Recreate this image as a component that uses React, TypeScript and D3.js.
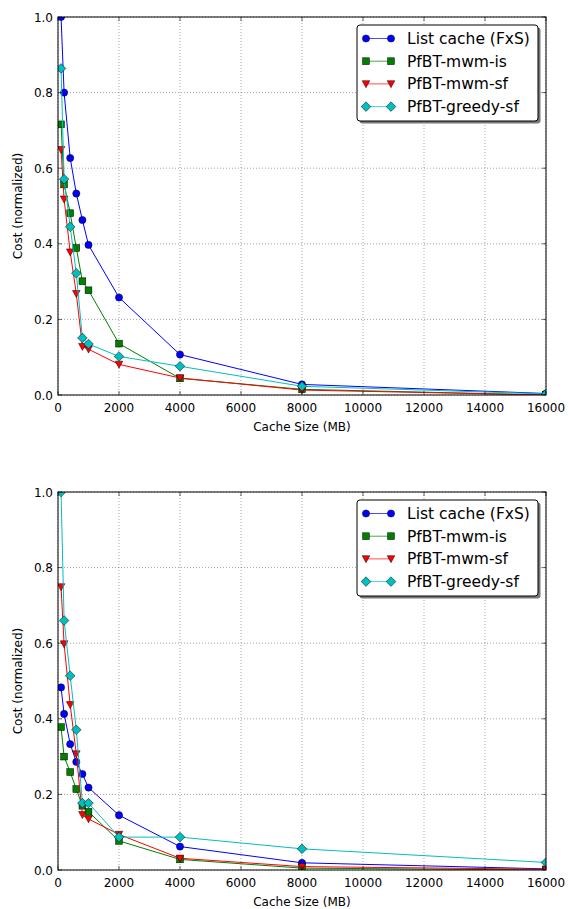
import React from 'react';
import * as d3 from 'd3';

// cache sizes (MB) shared by both panels
const cacheSizes = [100, 200, 400, 600, 800, 1000, 2000, 4000, 8000, 16000];

const seriesNames = ['List cache (FxS)', 'PfBT-mwm-is', 'PfBT-mwm-sf', 'PfBT-greedy-sf'];
const seriesColors = ['#0000ff', '#007f00', '#ff0000', '#00bfbf'];
const seriesMarkers = ['circle', 'square', 'triangle', 'diamond'];

// top panel
const topListCache = [1.0, 0.8, 0.627, 0.533, 0.463, 0.397, 0.258, 0.107, 0.028, 0.004];
const topMwmIs = [0.716, 0.557, 0.481, 0.389, 0.301, 0.277, 0.136, 0.044, 0.015, 0.0];
const topMwmSf = [0.649, 0.518, 0.378, 0.268, 0.128, 0.121, 0.081, 0.045, 0.013, 0.0];
const topGreedySf = [0.864, 0.571, 0.445, 0.322, 0.151, 0.135, 0.102, 0.076, 0.023, 0.003];

// bottom panel
const botListCache = [0.483, 0.413, 0.333, 0.286, 0.254, 0.218, 0.145, 0.062, 0.019, 0.003];
const botMwmIs = [0.378, 0.3, 0.259, 0.214, 0.17, 0.154, 0.077, 0.028, 0.005, 0.0];
const botMwmSf = [0.749, 0.598, 0.437, 0.307, 0.146, 0.135, 0.094, 0.031, 0.009, 0.002];
const botGreedySf = [1.0, 0.66, 0.514, 0.371, 0.177, 0.177, 0.087, 0.087, 0.056, 0.02];

const xTicks = [0, 2000, 4000, 6000, 8000, 10000, 12000, 14000, 16000];
const yTicks = [0, 0.2, 0.4, 0.6, 0.8, 1.0];

const FONT = 'DejaVu Sans, sans-serif';

function Marker({ kind, x, y, color }: { kind: string; x: number; y: number; color: string }) {
  const stroke = '#000';
  const sw = 0.5;
  if (kind === 'circle') return <circle cx={x} cy={y} r={3.6} fill={color} stroke={stroke} strokeWidth={sw} />;
  if (kind === 'square') return <rect x={x - 3.4} y={y - 3.4} width={6.8} height={6.8} fill={color} stroke={stroke} strokeWidth={sw} />;
  if (kind === 'triangle')
    return <path d={`M${x - 3.8},${y - 3.2}L${x + 3.8},${y - 3.2}L${x},${y + 3.8}Z`} fill={color} stroke={stroke} strokeWidth={sw} />;
  return <path d={`M${x},${y - 4.8}L${x + 4.8},${y}L${x},${y + 4.8}L${x - 4.8},${y}Z`} fill={color} stroke={stroke} strokeWidth={sw} />;
}

function Panel({ top, id, series }: { top: number; id: string; series: number[][] }) {
  const left = 58;
  const right = 546;
  const bottom = top + 378;
  const x = d3.scaleLinear().domain([0, 16000]).range([left, right]);
  const y = d3.scaleLinear().domain([0, 1]).range([bottom, top]);
  const line = d3.line<number>().x((_, i) => x(cacheSizes[i])).y((d) => y(d));

  const lgX = 357;
  const lgY = top + 8;
  const rowH = 22.7;

  return (
    <g fontFamily={FONT}>
      <defs>
        <clipPath id={id}>
          <rect x={left} y={top} width={right - left} height={bottom - top} />
        </clipPath>
      </defs>
      <rect x={left} y={top} width={right - left} height={bottom - top} fill="#fff" />
      {/* grid */}
      {xTicks.map((t) => (
        <line key={'gx' + t} x1={x(t)} x2={x(t)} y1={top} y2={bottom} stroke="#000" strokeOpacity={0.6} strokeWidth={0.6} strokeDasharray="1,2" />
      ))}
      {yTicks.map((t) => (
        <line key={'gy' + t} x1={left} x2={right} y1={y(t)} y2={y(t)} stroke="#000" strokeOpacity={0.6} strokeWidth={0.6} strokeDasharray="1,2" />
      ))}
      {/* data */}
      <g clipPath={`url(#${id})`}>
        {series.map((vals, si) => (
          <g key={si}>
            <path d={line(vals) || ''} fill="none" stroke={seriesColors[si]} strokeWidth={1} />
            {vals.map((v, i) => (
              <Marker key={i} kind={seriesMarkers[si]} x={x(cacheSizes[i])} y={y(v)} color={seriesColors[si]} />
            ))}
          </g>
        ))}
      </g>
      {/* ticks */}
      {xTicks.map((t) => (
        <g key={'tx' + t}>
          <line x1={x(t)} x2={x(t)} y1={bottom} y2={bottom - 4} stroke="#000" strokeWidth={0.6} />
          <line x1={x(t)} x2={x(t)} y1={top} y2={top + 4} stroke="#000" strokeWidth={0.6} />
          <text x={x(t)} y={bottom + 17} fontSize={12} textAnchor="middle" fill="#000">
            {t}
          </text>
        </g>
      ))}
      {yTicks.map((t) => (
        <g key={'ty' + t}>
          <line x1={left} x2={left + 4} y1={y(t)} y2={y(t)} stroke="#000" strokeWidth={0.6} />
          <line x1={right} x2={right - 4} y1={y(t)} y2={y(t)} stroke="#000" strokeWidth={0.6} />
          <text x={left - 5} y={y(t) + 4.5} fontSize={12} textAnchor="end" fill="#000">
            {d3.format('.1f')(t)}
          </text>
        </g>
      ))}
      <rect x={left} y={top} width={right - left} height={bottom - top} fill="none" stroke="#000" strokeWidth={1} />
      <text x={(left + right) / 2} y={bottom + 36} fontSize={12} textAnchor="middle" fill="#000">
        Cache Size (MB)
      </text>
      <text transform={`translate(21.5,${(top + bottom) / 2}) rotate(-90)`} fontSize={12} textAnchor="middle" fill="#000">
        Cost (normalized)
      </text>
      {/* legend */}
      <rect x={lgX + 2.5} y={lgY + 2.5} width={181} height={96} rx={3} fill="#777" />
      <rect x={lgX} y={lgY} width={181} height={96} rx={3} fill="#fff" stroke="#000" strokeWidth={1} />
      {seriesNames.map((name, si) => {
        const ry = lgY + 13.5 + si * rowH;
        return (
          <g key={name}>
            <line x1={lgX + 9} x2={lgX + 34} y1={ry} y2={ry} stroke={seriesColors[si]} strokeWidth={1} strokeOpacity={0.7} />
            <Marker kind={seriesMarkers[si]} x={lgX + 9} y={ry} color={seriesColors[si]} />
            <Marker kind={seriesMarkers[si]} x={lgX + 34} y={ry} color={seriesColors[si]} />
            <text x={lgX + 50} y={ry + 5.5} fontSize={15.5} fill="#000">
              {name}
            </text>
          </g>
        );
      })}
    </g>
  );
}

export default function App() {
  return (
    <div style={{ position: 'absolute', left: 0, top: 0 }}>
      <svg width={569} height={909} style={{ display: 'block' }}>
        <rect width={569} height={909} fill="#fff" />
        <Panel top={17} id="clipTop" series={[topListCache, topMwmIs, topMwmSf, topGreedySf]} />
        <Panel top={492} id="clipBot" series={[botListCache, botMwmIs, botMwmSf, botGreedySf]} />
      </svg>
    </div>
  );
}
